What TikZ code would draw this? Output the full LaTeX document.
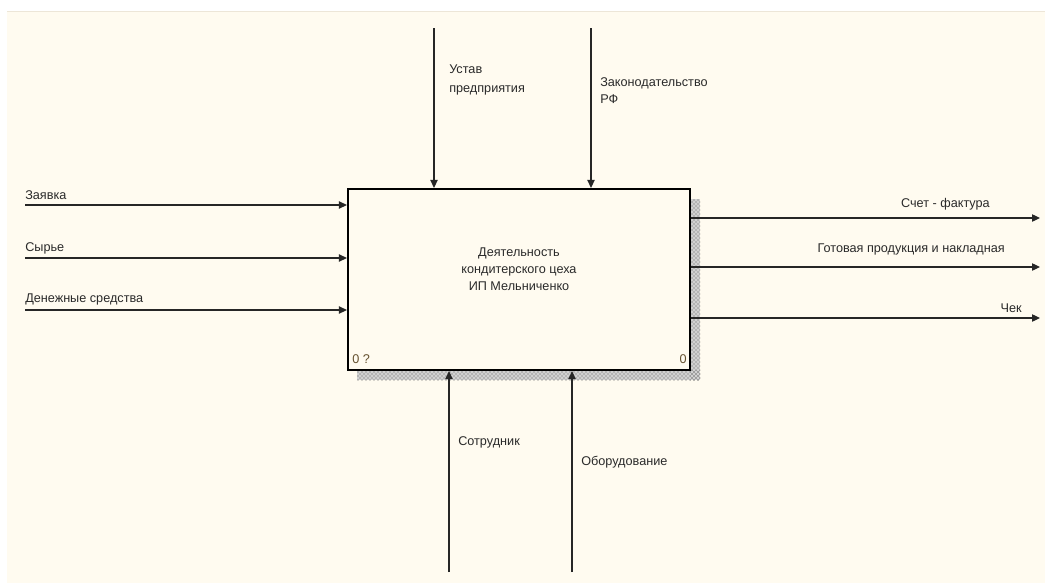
\documentclass[tikz,border=0pt]{standalone}
\usepackage{fontspec}
\setmainfont{Liberation Sans}
\usetikzlibrary{arrows.meta,patterns}
\definecolor{bgcream}{HTML}{FFFBF0}
\definecolor{edgeline}{HTML}{EDE6D8}
\definecolor{txt}{HTML}{2A2A2A}
\definecolor{lbl}{HTML}{8A6A30}
\tikzset{
  arr/.style={draw=black!85, line width=0.9pt, -{Triangle[length=6pt,width=5.5pt]}},
  lab/.style={text=txt, inner sep=0pt, font=\fontsize{9.5}{13}\selectfont, align=left},
  fnode/.style={draw=black, line width=1.6pt, fill=bgcream, minimum width=256.5pt, minimum height=135.75pt, inner sep=0pt},
  shadowfill/.style={pattern=crosshatch dots, pattern color=black!65},
}
\begin{document}
\begin{tikzpicture}[x=0.75pt,y=-0.75pt]
\useasboundingbox (0,0) rectangle (1045,582);
\fill[white] (0,0) rectangle (1045,582);
\fill[bgcream] (7,11) rectangle (1046,583);
\draw[edgeline, line width=0.6pt] (7,11) -- (1045,11);
% shadow
\fill[black!18] (690,199) rectangle (700,380);
\fill[black!18] (357,370) rectangle (700,380);
\fill[shadowfill] (690,199) rectangle (700,380);
\fill[shadowfill] (357,370) rectangle (700,380);
% main box
\node[fnode] (box) at (519,279.5) {};
\node[lab, align=center, anchor=center, font=\fontsize{9.5}{12.75}\selectfont] (title) at (519,269) {Деятельность\\кондитерского цеха\\ИП Мельниченко};
\node[lab, anchor=south west, text=lbl!60!txt] (n0q) at (352,364) {0 ?};
\node[lab, anchor=south east, text=lbl!60!txt] (n0) at (687,364) {0};
% free ends
\coordinate (i1) at (25,205);
\coordinate (i2) at (25,258);
\coordinate (i3) at (25,310);
\coordinate (c1) at (434,28);
\coordinate (c2) at (591,28);
\coordinate (m1) at (449,572);
\coordinate (m2) at (572,572);
\coordinate (o1) at (1040,218);
\coordinate (o2) at (1040,267);
\coordinate (o3) at (1040,318);
% inputs
\draw[arr] (i1) -- (i1 -| box.west);
\draw[arr] (i2) -- (i2 -| box.west);
\draw[arr] (i3) -- (i3 -| box.west);
% controls
\draw[arr] (c1) -- (c1 |- box.north);
\draw[arr] (c2) -- (c2 |- box.north);
% mechanisms
\draw[arr] (m1) -- (m1 |- box.south);
\draw[arr] (m2) -- (m2 |- box.south);
% outputs
\draw[arr] (o1 -| box.east) -- (o1);
\draw[arr] (o2 -| box.east) -- (o2);
\draw[arr] (o3 -| box.east) -- (o3);
% labels
\node[lab, anchor=west] (l1) at (25,195) {Заявка};
\node[lab, anchor=west] (l2) at (25,248) {Сырье};
\node[lab, anchor=west] (l3) at (25,299) {Денежные средства};
\node[lab, align=left, font=\fontsize{9.5}{14.25}\selectfont, anchor=west] (lc1) at (449,79.5) {Устав\\предприятия};
\node[lab, anchor=west, font=\fontsize{9.5}{12.75}\selectfont] (lc2) at (600,90.5) {Законодательство\\РФ};
\node[lab, anchor=east] (lo1) at (990,204) {Счет - фактура};
\node[lab, anchor=east] (lo2) at (1005,249) {Готовая продукция и накладная};
\node[lab, anchor=east] (lo3) at (1022,308) {Чек};
\node[lab, anchor=west] (lm1) at (458,442) {Сотрудник};
\node[lab, anchor=west] (lm2) at (581,462) {Оборудование};
\end{tikzpicture}
\end{document}
